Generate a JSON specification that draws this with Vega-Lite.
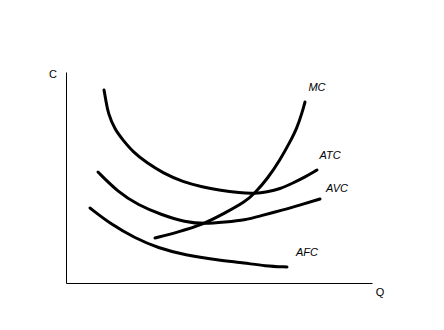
{
  "$schema": "https://vega.github.io/schema/vega-lite/v6.json",
  "width": 306,
  "height": 211,
  "autosize": {"type": "none"},
  "padding": {"left": 66, "top": 72, "right": 72, "bottom": 47},
  "background": "white",
  "config": {"view": {"stroke": null}, "font": "Liberation Sans"},
  "datasets": {
    "curves": [
      {"curve": "ATC", "q": 38, "c": 193}, {"curve": "ATC", "q": 40, "c": 182}, {"curve": "ATC", "q": 42, "c": 170},
      {"curve": "ATC", "q": 49, "c": 153}, {"curve": "ATC", "q": 57, "c": 143}, {"curve": "ATC", "q": 67, "c": 131},
      {"curve": "ATC", "q": 81, "c": 120}, {"curve": "ATC", "q": 97, "c": 110}, {"curve": "ATC", "q": 117, "c": 101},
      {"curve": "ATC", "q": 137, "c": 96}, {"curve": "ATC", "q": 152, "c": 93}, {"curve": "ATC", "q": 174, "c": 90},
      {"curve": "ATC", "q": 189, "c": 89.5}, {"curve": "ATC", "q": 201, "c": 91}, {"curve": "ATC", "q": 214, "c": 94},
      {"curve": "ATC", "q": 227, "c": 100}, {"curve": "ATC", "q": 239, "c": 106}, {"curve": "ATC", "q": 251, "c": 113},
      {"curve": "MC", "q": 89, "c": 45}, {"curve": "MC", "q": 112, "c": 51}, {"curve": "MC", "q": 136, "c": 58},
      {"curve": "MC", "q": 159, "c": 70}, {"curve": "MC", "q": 179, "c": 81}, {"curve": "MC", "q": 189, "c": 90},
      {"curve": "MC", "q": 202, "c": 105}, {"curve": "MC", "q": 214, "c": 123}, {"curve": "MC", "q": 224, "c": 141},
      {"curve": "MC", "q": 231, "c": 155}, {"curve": "MC", "q": 236, "c": 170}, {"curve": "MC", "q": 239, "c": 181},
      {"curve": "AVC", "q": 32, "c": 111}, {"curve": "AVC", "q": 52, "c": 91}, {"curve": "AVC", "q": 72, "c": 78},
      {"curve": "AVC", "q": 96, "c": 68}, {"curve": "AVC", "q": 119, "c": 61}, {"curve": "AVC", "q": 139, "c": 59},
      {"curve": "AVC", "q": 159, "c": 61}, {"curve": "AVC", "q": 179, "c": 63}, {"curve": "AVC", "q": 194, "c": 67},
      {"curve": "AVC", "q": 217, "c": 73}, {"curve": "AVC", "q": 234, "c": 78}, {"curve": "AVC", "q": 254, "c": 84},
      {"curve": "AFC", "q": 24, "c": 75}, {"curve": "AFC", "q": 46, "c": 58}, {"curve": "AFC", "q": 69, "c": 45},
      {"curve": "AFC", "q": 92, "c": 35}, {"curve": "AFC", "q": 119, "c": 28}, {"curve": "AFC", "q": 152, "c": 23},
      {"curve": "AFC", "q": 179, "c": 20}, {"curve": "AFC", "q": 199, "c": 17}, {"curve": "AFC", "q": 221, "c": 16}
    ],
    "labels": [
      {"text": "MC", "q": 251, "c": 195},
      {"text": "ATC", "q": 264, "c": 127},
      {"text": "AVC", "q": 271, "c": 94},
      {"text": "AFC", "q": 241, "c": 30}
    ],
    "axislabels": [
      {"text": "C", "q": -13, "c": 208},
      {"text": "Q", "q": 314, "c": -10}
    ]
  },
  "layer": [
    {
      "data": {"name": "curves"},
      "mark": {"type": "line", "interpolate": "basis", "strokeWidth": 3, "color": "black", "strokeCap": "round"},
      "encoding": {
        "x": {"field": "q", "type": "quantitative", "scale": {"domain": [0, 306], "nice": false},
              "axis": {"title": null, "labels": false, "ticks": false, "grid": false, "domainColor": "black", "domainWidth": 1}},
        "y": {"field": "c", "type": "quantitative", "scale": {"domain": [0, 211], "nice": false},
              "axis": {"title": null, "labels": false, "ticks": false, "grid": false, "domainColor": "black", "domainWidth": 1}},
        "detail": {"field": "curve", "type": "nominal"}
      }
    },
    {
      "data": {"name": "labels"},
      "mark": {"type": "text", "fontStyle": "italic", "fontSize": 11, "color": "black"},
      "encoding": {
        "x": {"field": "q", "type": "quantitative"},
        "y": {"field": "c", "type": "quantitative"},
        "text": {"field": "text"}
      }
    },
    {
      "data": {"name": "axislabels"},
      "mark": {"type": "text", "fontSize": 11, "color": "black"},
      "encoding": {
        "x": {"field": "q", "type": "quantitative"},
        "y": {"field": "c", "type": "quantitative"},
        "text": {"field": "text"}
      }
    }
  ]
}
